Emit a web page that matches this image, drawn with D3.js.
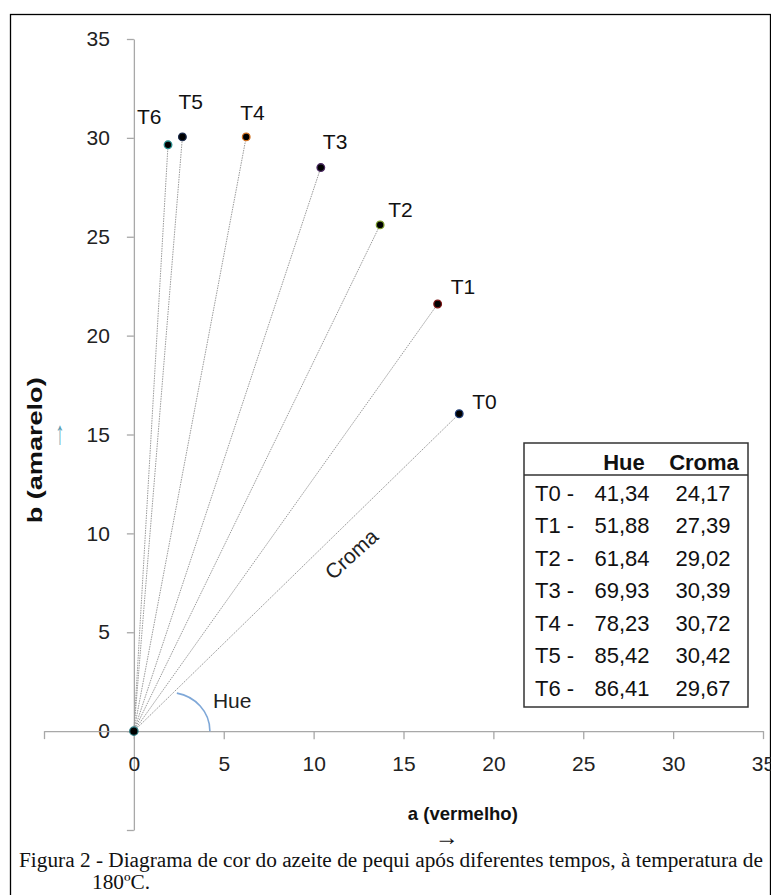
<!DOCTYPE html>
<html><head><meta charset="utf-8">
<script src="https://cdn.jsdelivr.net/npm/d3@7"></script>
<style>
html,body{margin:0;padding:0;background:#fff;}
svg{display:block;}
</style></head>
<body>
<svg id="chart" width="771" height="895"></svg>
<script>
// ---- data ----
const samples = ["T0","T1","T2","T3","T4","T5","T6"];
const aValues = [18.1, 16.9, 13.7, 10.4, 6.25, 2.7, 1.9];   // a (vermelho)
const bValues = [16.05, 21.6, 25.6, 28.5, 30.05, 30.05, 29.65]; // b (amarelo)
const hueValues = ["41,34","51,88","61,84","69,93","78,23","85,42","86,41"];
const cromaValues = ["24,17","27,39","29,02","30,39","30,72","30,42","29,67"];
const axisTicks = [-5, 0, 5, 10, 15, 20, 25, 30, 35];

// ---- styles ----
const pointColors = ["#1c3a72","#7a1414","#7a9a2a","#4a2a60","#d07020","#1a2a4a","#2a9090"];
const labelOffsets = [[13,-5],[13,-10],[8,-8],[2,-19],[-6,-17],[-4,-28],[-31,-21]];

const svg = d3.select("#chart");
const x = d3.scaleLinear().domain([-5, 35]).range([44, 763]);
const y = d3.scaleLinear().domain([-5, 35]).range([830, 39]);

// frame
svg.append("rect").attr("x", 10.5).attr("y", 14.5).attr("width", 760).attr("height", 890)
  .attr("fill", "none").attr("stroke", "#000").attr("stroke-width", 1.3);

const font = "'Liberation Sans', Arial, sans-serif";
const serif = "'Liberation Serif', 'Times New Roman', serif";

// axes
const fmt = d => d < 0 ? "" : d;
const yAxis = svg.append("g").attr("transform", `translate(${x(0)},0)`)
  .call(d3.axisLeft(y).tickValues(axisTicks).tickSize(7).tickSizeOuter(0).tickPadding(17).tickFormat(fmt));
const xAxis = svg.append("g").attr("transform", `translate(0,${y(0)})`)
  .call(d3.axisBottom(x).tickValues(axisTicks).tickSize(8).tickSizeOuter(0).tickPadding(17).tickFormat(fmt));
[xAxis, yAxis].forEach(g => {
  g.select(".domain").attr("stroke", "#a8a8a8").attr("stroke-width", 1.3);
  g.selectAll(".tick line").attr("stroke", "#a8a8a8").attr("stroke-width", 1.3);
  g.selectAll(".tick text").attr("font-family", font).attr("font-size", 21).attr("fill", "#222");
});

// croma lines
svg.append("g").selectAll("line").data(samples).join("line")
  .attr("x1", x(0)).attr("y1", y(0))
  .attr("x2", (d, i) => x(aValues[i])).attr("y2", (d, i) => y(bValues[i]))
  .attr("stroke", "#9a9a9a").attr("stroke-width", 1).attr("stroke-dasharray", "1.5,1");

// hue arc (data units)
const arcStart = [2.39, 1.92], arcC1 = [3.4, 1.75], arcC2 = [4.23, 1.0], arcEnd = [4.23, 0];
svg.append("path")
  .attr("d", `M${x(arcStart[0])},${y(arcStart[1])} C${x(arcC1[0])},${y(arcC1[1])} ${x(arcC2[0])},${y(arcC2[1])} ${x(arcEnd[0])},${y(arcEnd[1])}`)
  .attr("fill", "none").attr("stroke", "#7fa8d8").attr("stroke-width", 1.6);

// origin point
svg.append("circle").attr("cx", x(0)).attr("cy", y(0)).attr("r", 4.2)
  .attr("fill", "#000").attr("stroke", "#2a7a80").attr("stroke-width", 1.2);

// points
svg.append("g").selectAll("circle").data(samples).join("circle")
  .attr("cx", (d, i) => x(aValues[i])).attr("cy", (d, i) => y(bValues[i])).attr("r", 3.8)
  .attr("fill", "#000").attr("stroke", (d, i) => pointColors[i]).attr("stroke-width", 1.3);

// point labels
svg.append("g").selectAll("text").data(samples).join("text")
  .attr("x", (d, i) => x(aValues[i]) + labelOffsets[i][0])
  .attr("y", (d, i) => y(bValues[i]) + labelOffsets[i][1])
  .attr("font-family", font).attr("font-size", 21).attr("fill", "#111")
  .text(d => d);

// annotations
svg.append("text").attr("x", x(4.4)).attr("y", y(1.16)).attr("font-family", font)
  .attr("font-size", 21).attr("fill", "#222").text("Hue");
svg.append("text").attr("transform", `translate(${x(12.1)},${y(8.95)}) rotate(-42)`)
  .attr("text-anchor", "middle").attr("dy", "0.35em")
  .attr("font-family", font).attr("font-size", 21).attr("fill", "#222").text("Croma");

// axis titles
svg.append("text").attr("transform", `translate(35,${y(14.2)}) rotate(-90)`)
  .attr("text-anchor", "middle").attr("dy", "0.35em").attr("font-family", font)
  .attr("font-size", 20).attr("font-weight", "bold").attr("fill", "#111")
  .attr("textLength", 146).attr("lengthAdjust", "spacingAndGlyphs").text("b (amarelo)");
svg.append("text").attr("transform", `translate(60,${y(15.1)}) scale(0.8,1.5)`)
  .attr("dy", "0.35em").attr("text-anchor", "middle")
  .attr("font-family", serif).attr("font-size", 22).attr("fill", "#5a9ab0").text("↑");
svg.append("text").attr("x", x(18.3)).attr("y", y(-4.5)).attr("text-anchor", "middle")
  .attr("font-family", font).attr("font-size", 18.5).attr("font-weight", "bold").attr("fill", "#111").text("a (vermelho)");
svg.append("text").attr("x", x(17.4)).attr("y", 845).attr("text-anchor", "middle")
  .attr("font-family", serif).attr("font-size", 24).attr("fill", "#111").text("→");

// table
const tbl = svg.append("g");
const tLeft = 524, tRight = 748, tTop = 443, tHead = 475, tBottom = 707;
tbl.append("rect").attr("x", tLeft).attr("y", tTop).attr("width", tRight - tLeft).attr("height", tBottom - tTop)
  .attr("fill", "#fff").attr("stroke", "#333").attr("stroke-width", 1.5);
tbl.append("line").attr("x1", tLeft).attr("x2", tRight).attr("y1", tHead).attr("y2", tHead)
  .attr("stroke", "#333").attr("stroke-width", 1.5);
tbl.append("text").attr("x", 624).attr("y", 462).attr("dy", "0.35em").attr("text-anchor", "middle")
  .attr("font-family", font).attr("font-size", 22).attr("font-weight", "bold").attr("fill", "#111").text("Hue");
tbl.append("text").attr("x", 704).attr("y", 462).attr("dy", "0.35em").attr("text-anchor", "middle")
  .attr("font-family", font).attr("font-size", 22).attr("font-weight", "bold").attr("fill", "#111").text("Croma");
const rowY = d3.scaleLinear().domain([0, 6]).range([493, 688]);
samples.forEach((s, i) => {
  const g = tbl.append("g").attr("font-family", font).attr("font-size", 22).attr("fill", "#111");
  g.append("text").attr("x", 535).attr("y", rowY(i)).attr("dy", "0.35em").text(s + " -");
  g.append("text").attr("x", 622).attr("y", rowY(i)).attr("dy", "0.35em").attr("text-anchor", "middle").text(hueValues[i]);
  g.append("text").attr("x", 703).attr("y", rowY(i)).attr("dy", "0.35em").attr("text-anchor", "middle").text(cromaValues[i]);
});

// caption
svg.append("text").attr("x", 19).attr("y", 867).attr("font-family", serif)
  .attr("font-size", 21.3).attr("fill", "#111")
  .text("Figura 2 - Diagrama de cor do azeite de pequi após diferentes tempos, à temperatura de");
svg.append("text").attr("x", 92).attr("y", 889).attr("font-family", serif)
  .attr("font-size", 21.3).attr("fill", "#111").text("180ºC.");
</script>
</body></html>
